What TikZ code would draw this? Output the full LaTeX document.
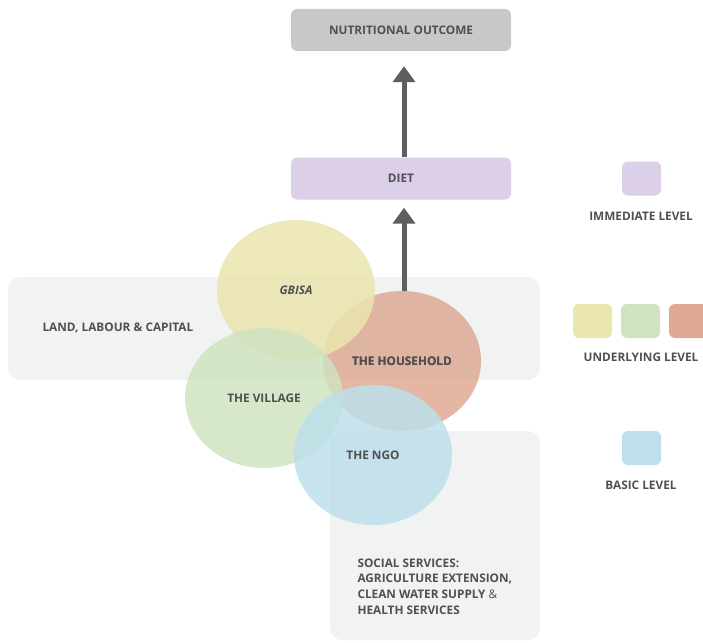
\documentclass[tikz,border=0pt]{standalone}
\usepackage{fontspec}
\setmainfont{Open Sans}
\usetikzlibrary{shapes.geometric,arrows.meta}
\definecolor{txt}{HTML}{505052}
\definecolor{outcomefill}{HTML}{C8C8CA}
\definecolor{dietfill}{HTML}{DCD0E8}
\definecolor{bandfill}{HTML}{F1F2F2}
\definecolor{arrowcol}{HTML}{5F5F63}
\definecolor{yel}{HTML}{EBE5AE}
\definecolor{grn}{HTML}{CFE3C1}
\definecolor{sal}{HTML}{DEAA94}
\definecolor{blu}{HTML}{BEDFEB}
\tikzset{
  lbl/.style={font=\fontsize{11.8}{15.8}\selectfont\bfseries, text=txt},
  topbox/.style={lbl, rounded corners=6pt, minimum width=220pt, minimum height=42pt, inner sep=0pt},
  band/.style={fill=bandfill, rounded corners=12pt},
  circ/.style={lbl, ellipse, minimum width=158pt, minimum height=140pt, inner sep=0pt, fill opacity=0.85, text opacity=1},
  legsq/.style={rounded corners=6pt, minimum width=39pt, minimum height=34pt, inner sep=0pt},
  bigarrow/.style={draw=arrowcol, line width=5pt, -{Triangle[width=22pt,length=16pt]}, arrowcol},
}
\begin{document}
\begin{tikzpicture}[x=1pt,y=-1pt]
\useasboundingbox (0,0) rectangle (703,642);
\clip (0,0) rectangle (703,642);
% background bands
\fill[band] (8,277) rectangle (540,380);
\fill[band] (330,431) rectangle (540,640);
% top boxes
\node[topbox, fill=outcomefill] (outcome) at (401,30) {NUTRITIONAL OUTCOME};
\node[topbox, fill=dietfill] (diet) at (401,178.5) {DIET};
% household position (needed for arrow)
\coordinate (hhc) at (402,361);
\node[circ, draw=none, fill=none] (hhdummy) at (hhc) {};
% arrows
\draw[bigarrow, shorten >=15pt] ([xshift=3pt]diet.north) -- ([xshift=3pt]outcome.south);
\draw[bigarrow, shorten >=8pt] ([xshift=3pt]diet.south |- hhdummy.north) -- ([xshift=3pt]diet.south);
% circles
\node[circ, fill=sal] (hh) at (hhc) {THE HOUSEHOLD};
\node[circ, fill=yel] (gbisa) at (296,290) {\itshape GBISA};
\node[circ, fill=grn] (village) at (264,398) {THE VILLAGE};
\node[circ, fill=blu] (ngo) at (373,455) {THE NGO};
% redraw label over overlaps
\node[lbl] at (hh) {THE HOUSEHOLD};
% band texts
\node[lbl, anchor=west] (land) at (39,327.5) {LAND, LABOUR \& CAPITAL};
\node[lbl, anchor=north west, align=left] (social) at (354,555) {SOCIAL SERVICES:\\AGRICULTURE EXTENSION,\\CLEAN WATER SUPPLY {\mdseries\&}\\HEALTH SERVICES};
% legend
\node[legsq, fill=dietfill] (legimm) at (641.5,178.5) {};
\node[lbl] (legimmt) at (641,216) {IMMEDIATE LEVEL};
\node[legsq, fill=yel] (legy) at (592.5,321) {};
\node[legsq, fill=grn] (legg) at (640.5,321) {};
\node[legsq, fill=sal] (legs) at (688.5,321) {};
\node[lbl] (legut) at (641,357) {UNDERLYING LEVEL};
\node[legsq, fill=blu] (legb) at (641.5,448) {};
\node[lbl] (legbt) at (641,485) {BASIC LEVEL};
\end{tikzpicture}
\end{document}
